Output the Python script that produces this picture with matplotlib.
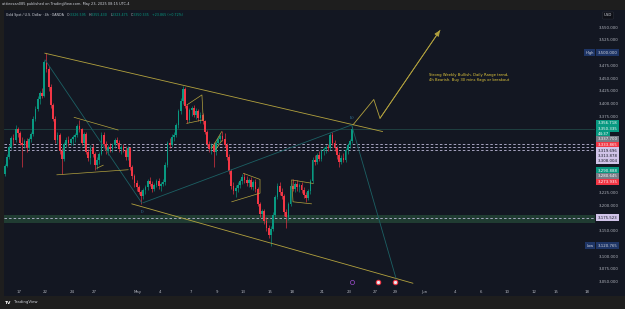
import matplotlib
matplotlib.use("Agg")
import matplotlib.pyplot as plt
from matplotlib.patches import Rectangle
from matplotlib.transforms import blended_transform_factory

# ---- data: XAUUSD 4h bars (OANDA) ----
sessions = ['Apr 15', 'Apr 16', 'Apr 17', 'Apr 21', 'Apr 22', 'Apr 23', 'Apr 24', 'Apr 25',
            'Apr 28', 'Apr 29', 'Apr 30', 'May 1', 'May 2', 'May 5', 'May 6', 'May 7',
            'May 8', 'May 9', 'May 12', 'May 13', 'May 14', 'May 15', 'May 16', 'May 19',
            'May 20', 'May 21', 'May 22', 'May 23']
session_bars = [1] + [6] * 26 + [2]

opens = [3262,
         3278, 3296, 3314, 3333, 3328, 3350,
         3343, 3322, 3318, 3326, 3312, 3331,
         3340, 3370, 3390, 3408, 3420, 3415,
         3482, 3468, 3432, 3398, 3370, 3328,
         3338, 3306, 3292, 3320, 3328, 3322,
         3330, 3334, 3338, 3355, 3350, 3322,
         3340, 3305, 3294, 3312, 3300, 3280,
         3290, 3300, 3338, 3320, 3306, 3314,
         3310, 3318, 3328, 3322, 3310, 3314,
         3308, 3296, 3312, 3276, 3258, 3244,
         3236, 3226, 3218, 3230, 3236, 3248,
         3242, 3232, 3240, 3248, 3238, 3242,
         3246, 3280, 3322, 3318, 3335, 3338,
         3358, 3386, 3405, 3428, 3396, 3368,
         3388, 3392, 3378, 3386, 3372, 3378,
         3365, 3344, 3320, 3310, 3318, 3304,
         3322, 3330, 3336, 3330, 3318, 3296,
         3268, 3238, 3228, 3234, 3240, 3248,
         3256, 3250, 3244, 3250, 3236, 3246,
         3232, 3202, 3184, 3188, 3170, 3156,
         3142, 3154, 3182, 3216, 3238, 3226,
         3218, 3186, 3178, 3202, 3238, 3232,
         3242, 3236, 3240, 3230, 3220, 3214,
         3228, 3248, 3290, 3286, 3298, 3292,
         3306, 3310, 3314, 3312, 3338, 3322,
         3312, 3298, 3286, 3294, 3290, 3308,
         3318, 3326.595]
highs = [3282,
         3300, 3318, 3336, 3340, 3357, 3353,
         3346, 3334, 3330, 3332, 3335, 3345,
         3375, 3395, 3414, 3425, 3430, 3486,
         3500, 3474, 3438, 3402, 3376, 3345,
         3342, 3312, 3325, 3334, 3336, 3332,
         3338, 3342, 3360, 3368, 3352, 3345,
         3344, 3310, 3318, 3320, 3305, 3295,
         3304, 3344, 3345, 3326, 3318, 3322,
         3322, 3332, 3335, 3328, 3318, 3320,
         3316, 3316, 3315, 3280, 3262, 3250,
         3240, 3230, 3234, 3240, 3252, 3256,
         3248, 3244, 3252, 3254, 3246, 3252,
         3285, 3326, 3332, 3340, 3345, 3362,
         3390, 3410, 3434, 3432, 3400, 3392,
         3396, 3398, 3392, 3390, 3384, 3382,
         3368, 3348, 3326, 3322, 3324, 3326,
         3334, 3340, 3346, 3342, 3322, 3300,
         3272, 3246, 3240, 3246, 3252, 3262,
         3264, 3258, 3254, 3256, 3250, 3252,
         3236, 3206, 3192, 3192, 3178, 3162,
         3160, 3186, 3220, 3244, 3245, 3234,
         3222, 3192, 3206, 3244, 3252, 3246,
         3250, 3244, 3246, 3236, 3226, 3232,
         3252, 3296, 3298, 3302, 3306, 3310,
         3314, 3318, 3320, 3342, 3345, 3328,
         3316, 3304, 3298, 3302, 3312, 3322,
         3330, 3355.430]
lows = [3258,
        3275, 3292, 3310, 3318, 3325, 3335,
        3318, 3275, 3312, 3305, 3308, 3325,
        3336, 3365, 3385, 3400, 3410, 3412,
        3462, 3425, 3392, 3365, 3322, 3320,
        3300, 3262, 3288, 3314, 3316, 3318,
        3318, 3325, 3334, 3345, 3318, 3315,
        3300, 3288, 3282, 3296, 3270, 3272,
        3282, 3298, 3316, 3300, 3298, 3304,
        3305, 3312, 3318, 3305, 3300, 3304,
        3290, 3290, 3270, 3252, 3236, 3228,
        3222, 3202, 3212, 3222, 3230, 3238,
        3226, 3228, 3236, 3232, 3228, 3238,
        3240, 3276, 3312, 3314, 3326, 3334,
        3352, 3380, 3400, 3392, 3362, 3364,
        3376, 3374, 3370, 3366, 3362, 3360,
        3340, 3316, 3304, 3300, 3275, 3298,
        3316, 3324, 3326, 3314, 3290, 3262,
        3232, 3222, 3216, 3226, 3234, 3242,
        3244, 3238, 3236, 3232, 3230, 3226,
        3198, 3178, 3176, 3164, 3150, 3136,
        3121, 3150, 3178, 3212, 3220, 3212,
        3180, 3155, 3172, 3198, 3228, 3226,
        3228, 3226, 3224, 3214, 3206, 3210,
        3222, 3244, 3280, 3282, 3288, 3288,
        3298, 3302, 3306, 3308, 3318, 3306,
        3292, 3276, 3282, 3286, 3286, 3300,
        3312, 3323.475]
closes = [3278,
          3296, 3314, 3333, 3328, 3350, 3343,
          3322, 3318, 3326, 3312, 3331, 3340,
          3370, 3390, 3408, 3420, 3415, 3482,
          3468, 3432, 3398, 3370, 3328, 3338,
          3306, 3292, 3320, 3328, 3322, 3330,
          3334, 3338, 3355, 3350, 3322, 3340,
          3305, 3294, 3312, 3300, 3280, 3290,
          3300, 3338, 3320, 3306, 3314, 3310,
          3318, 3328, 3322, 3310, 3314, 3308,
          3296, 3312, 3276, 3258, 3244, 3236,
          3226, 3218, 3230, 3236, 3248, 3242,
          3232, 3240, 3248, 3238, 3242, 3246,
          3280, 3322, 3318, 3335, 3338, 3358,
          3386, 3405, 3428, 3396, 3368, 3388,
          3392, 3378, 3386, 3372, 3378, 3365,
          3344, 3320, 3310, 3318, 3304, 3322,
          3330, 3336, 3330, 3318, 3296, 3268,
          3238, 3228, 3234, 3240, 3248, 3256,
          3250, 3244, 3250, 3236, 3246, 3232,
          3202, 3184, 3188, 3170, 3156, 3142,
          3154, 3182, 3216, 3238, 3226, 3218,
          3186, 3178, 3202, 3238, 3232, 3242,
          3236, 3240, 3230, 3220, 3214, 3228,
          3248, 3290, 3286, 3298, 3292, 3306,
          3310, 3314, 3312, 3338, 3322, 3312,
          3298, 3286, 3294, 3290, 3308, 3318,
          3326.595, 3350.335]

# levels / zones
dashed_levels = [3319.696, 3313.878, 3308.004, 3175.523]
last_price = 3350.335
demand_zone = (3165, 3181)

# drawings (x in trading days from Apr 17, y in price)
upper_channel = [(1.95, 3499), (27.55, 3345)]
lower_channel = [(8.54, 3203), (29.85, 3047)]
teal_leg1 = [(1.97, 3486), (9.30, 3205)]
teal_leg2 = [(9.39, 3205), (25.2, 3358), (28.56, 3057)]
projection = [(25.3, 3358), (26.88, 3408), (27.35, 3371), (31.9, 3544)]
small_patterns = [
    [(4.17, 3373), (7.52, 3348)],
    [(2.86, 3260), (8.28, 3270)],
    [(5.89, 3273), (6.39, 3279)],
    [(12.70, 3397), (13.86, 3417), (13.96, 3368), (12.70, 3361)],
    [(14.6, 3312), (15.36, 3345)],
    [(14.9, 3310), (15.4, 3328)],
    [(16.99, 3263), (18.26, 3251), (18.26, 3224), (16.11, 3207)],
    [(22.30, 3243), (20.66, 3250), (20.76, 3207), (22.17, 3203)],
]
note = "Strong Weekly Bullish. Daily Range trend,\n4h Bearish. Buy 30 mins flags or breakout"

x_tick_labels = ['17', '22', '24', '27', 'May', '4', '7', '9', '13', '15', '18', '21', '23',
                 '27', '29', 'Jun', '4', '6', '10', '12', '15', '18']
x_tick_days = [0, 2, 4, 5.7, 9, 10.7, 13, 15, 17, 19, 20.7, 23, 25,
               27, 28.5, 30.7, 33, 35, 37, 39, 40.7, 43]
y_ticks = list(range(3050, 3551, 25))
# scale values that sit under the coloured price tags
y_ticks_covered = [3500, 3350, 3325, 3300, 3275, 3250, 3175, 3125]

# right-axis labels: (text, shown at price, background, text colour)
axis_labels = [
    ('3,356.718', 3361.2, '#089981', 'white'),
    ('3,350.335', 3350.0, '#089981', 'white'),
    ('44:37', 3340.8, '#089981', 'white'),
    ('3,337.700', 3329.8, '#787b86', 'white'),
    ('3,333.865', 3318.6, '#f23645', 'white'),
    ('3,319.696', 3307.4, '#d1c4e9', '#131722'),
    ('3,313.878', 3297.5, '#d1c4e9', '#131722'),
    ('3,308.004', 3287.1, '#d1c4e9', '#131722'),
    ('3,290.888', 3268.1, '#089981', 'white'),
    ('3,280.645', 3257.7, '#787b86', 'white'),
    ('3,273.935', 3245.9, '#f23645', 'white'),
    ('3,175.523', 3175.5, '#d1c4e9', '#131722'),
    ('3,500.000', 3500.0, '#1e3566', '#d1d4dc'),
    ('3,120.765', 3120.8, '#1e3566', '#d1d4dc'),
]

GREEN = '#089981'
RED = '#f23645'
BG = '#131722'
FRAME = '#1e1e1e'
YELLOW = '#b3a23e'
TEAL = '#1c6064'
AXIS_TXT = '#b2b5be'

W, H = 625, 309
fig = plt.figure(figsize=(W / 100, H / 100), dpi=100, facecolor=FRAME)
fig.patches.append(Rectangle((3.5 / W, 1 - 296 / H), 1, (296 - 10) / H,
                             transform=fig.transFigure, facecolor=BG, edgecolor='none',
                             zorder=-10))

ax = fig.add_axes([3.5 / W, 1 - 286 / H, (595 - 3.5) / W, (286 - 10) / H])
ax.set_facecolor('none')
ax.set_xlim(-1.174, 43.64)
ax.set_ylim(3041.6, 3583.8)
for s in ax.spines.values():
    s.set_visible(False)

# bar positions
xs = []
for i, n in enumerate(session_bars):
    day = i - 2
    start = 6 - n if i == 0 else 0
    for k in range(start, start + n):
        xs.append(day + (k + 0.5) / 6)

# zone + levels
ax.axhspan(*demand_zone, color='#203c32', lw=0, zorder=1)
for lv in dashed_levels:
    ax.axhline(lv, color='#bdb9d8', lw=0.6, ls=(0, (3, 2.5)), zorder=2)
ax.axhline(last_price, color='#24504d', lw=0.5, zorder=2)

# candles
cols = [GREEN if c >= o else RED for o, c in zip(opens, closes)]
ax.vlines(xs, lows, highs, colors=cols, lw=0.45, zorder=4)
ax.bar(xs, [max(abs(c - o), 1.2) for o, c in zip(opens, closes)],
       bottom=[min(o, c) for o, c in zip(opens, closes)],
       width=0.125, color=cols, linewidth=0, zorder=5)


def draw(pts, color, lw=0.6, z=6):
    ax.plot([p[0] for p in pts], [p[1] for p in pts], color=color, lw=lw,
            solid_capstyle='round', zorder=z)


draw(upper_channel, YELLOW)
draw(lower_channel, YELLOW)
draw(teal_leg1, TEAL)
draw(teal_leg2, TEAL)
draw(projection, YELLOW)
ax.annotate('', xy=projection[-1], xytext=projection[-2],
            arrowprops=dict(arrowstyle='-|>,head_length=0.35,head_width=0.15',
                            color=YELLOW, lw=0.6, shrinkA=0, shrinkB=0), zorder=6)
for pts in small_patterns:
    draw(pts, YELLOW, lw=0.5)

ax.text(9.34, 3187, '(i)', color='#3b8fb5', fontsize=2.4, ha='center', va='center', zorder=7)
ax.text(25.2, 3371, '(ii)', color='#3b8fb5', fontsize=2.4, ha='center', va='center', zorder=7)
ax.text(31.06, 3460, note, color='#e1c73c', fontsize=2.7, ha='left', va='top',
        linespacing=1.3, zorder=7)

# event icons on the time scale
ax.scatter([25.2], [3050], s=9, facecolor=BG, edgecolor='#9c4dcc', lw=0.5, zorder=7)
ax.scatter([27.2, 28.5], [3050, 3050], s=10, facecolor='#e9eaf0', edgecolor=RED, lw=0.8, zorder=7)

# axes ticks
ax.set_xticks(x_tick_days)
ax.set_xticklabels(x_tick_labels)
ax.yaxis.tick_right()
ax.set_yticks(y_ticks)
ax.set_yticklabels(['' if v in y_ticks_covered else f"{v:,.3f}" for v in y_ticks])
ax.tick_params(axis='both', length=0, colors=AXIS_TXT, labelsize=2.8)
ax.tick_params(axis='x', pad=3.2)
ax.tick_params(axis='y', pad=2.5)

trans = blended_transform_factory(ax.transAxes, ax.transData)
for txt, yv, bg, fg in axis_labels:
    ax.text(1.0045, yv, txt, transform=trans, ha='left', va='center', fontsize=2.8,
            color=fg, bbox=dict(boxstyle='square,pad=0.35', fc=bg, ec='none'), zorder=8,
            clip_on=False)
ax.text(0.998, 3500, 'High', transform=trans, ha='right', va='center', fontsize=2.6,
        color='#d1d4dc', bbox=dict(boxstyle='square,pad=0.35', fc='#1e3566', ec='none'), zorder=8)
ax.text(0.998, 3120.8, 'Low', transform=trans, ha='right', va='center', fontsize=2.6,
        color='#d1d4dc', bbox=dict(boxstyle='square,pad=0.35', fc='#1e3566', ec='none'), zorder=8)
fig.text(608 / W, 1 - 15.5 / H, 'USD', ha='center', va='center', fontsize=2.8, color='#d1d4dc',
         bbox=dict(boxstyle='round,pad=0.4,rounding_size=0.3', fc='#0f1118', ec='#2a2e39', lw=0.4))

# header texts
fig.text(2 / W, 1 - 4.5 / H, 'attieosan085 published on TradingView.com, May 23, 2025 08:15 UTC-4',
         color='#d1d4dc', fontsize=2.5, va='center')
prev = fig.text(6 / W, 1 - 15 / H, 'Gold Spot / U.S. Dollar \u00b7 4h \u00b7 OANDA',
                color='#d1d4dc', fontsize=2.3, va='center')
header_parts = [('O', AXIS_TXT, 2.5), ('3,326.595', GREEN, 0), ('H', AXIS_TXT, 1.5),
                ('3,355.430', GREEN, 0), ('L', AXIS_TXT, 1.5), ('3,323.475', GREEN, 0),
                ('C', AXIS_TXT, 1.5), ('3,350.335', GREEN, 0), ('+23.865 (+0.72%)', GREEN, 1.5)]
for txt, col, gap in header_parts:
    prev = ax.annotate(txt, xy=(1, 0.5), xycoords=prev, xytext=(gap, 0),
                       textcoords='offset points', va='center', ha='left',
                       fontsize=2.3, color=col, annotation_clip=False)

# footer logo
fig.text(5 / W, 1 - 302.5 / H, 'TV', color='white', fontsize=3.2, fontweight='bold', va='center')
fig.text(14 / W, 1 - 302.5 / H, 'TradingView', color='#d1d4dc', fontsize=2.8, va='center')

fig.savefig('out.png', dpi=100, facecolor=FRAME)
